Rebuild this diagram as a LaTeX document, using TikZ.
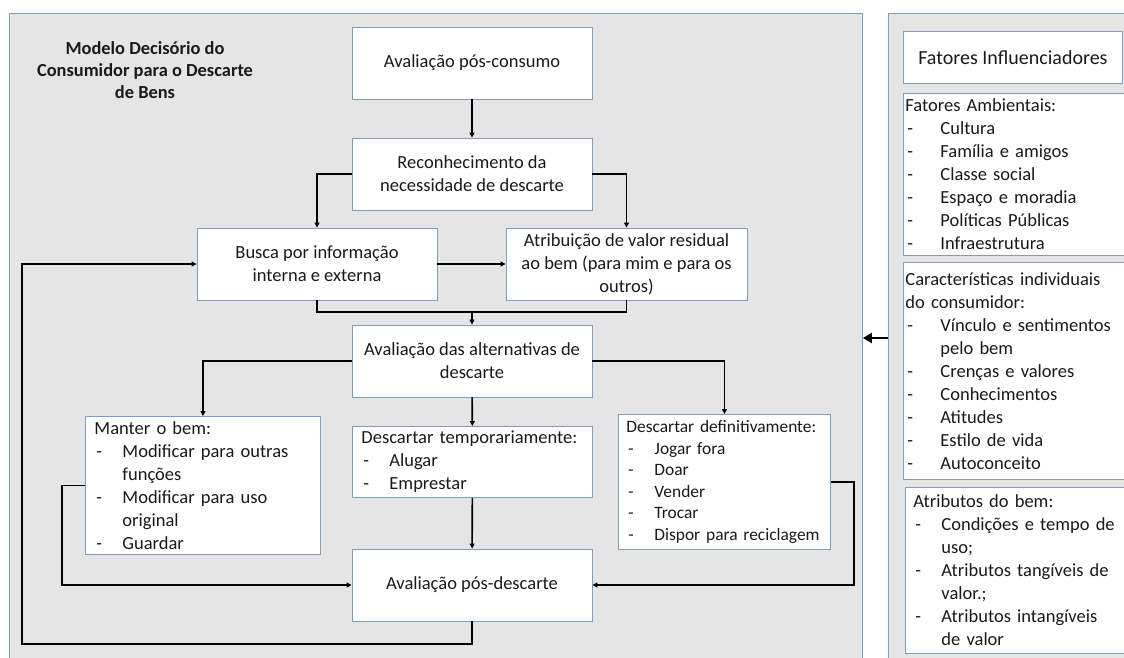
\documentclass[tikz,border=0pt]{standalone}
\usepackage{fontspec}
\setmainfont{Carlito}
\usepackage{tikz}
\usetikzlibrary{arrows.meta}
\definecolor{panel}{HTML}{E5E5E5}
\definecolor{frame}{HTML}{7F9DC2}
\definecolor{ink}{HTML}{1A1A1A}
\tikzset{
  pane/.style={draw=frame, fill=panel, line width=0.9pt, anchor=north west, inner sep=0pt},
  box/.style={draw=frame, fill=white, line width=0.9pt, text=ink, align=center, inner sep=0pt},
  listbox/.style={draw=frame, fill=white, line width=0.9pt, text=ink, align=left, anchor=north west, inner xsep=9pt, inner ysep=0pt},
  flow/.style={-{Triangle[length=5pt,width=5pt]}, line width=1.6pt, draw=black},
  link/.style={line width=1.6pt, draw=black},
  bigarrow/.style={-{Triangle[length=9pt,width=10pt]}, line width=2.8pt, draw=black},
  ttl/.style={font=\fontsize{18.4}{22}\selectfont\bfseries, text=ink, align=center}
}
\newcommand{\lidash}[1][28pt]{\makebox[#1][l]{\hspace{2pt}-}}
\newcommand{\liskip}[1][28pt]{\hspace*{#1}}
\newcommand{\ridash}{\lidash[35pt]}
\newcommand{\riskip}{\liskip[35pt]}

\begin{document}
\begin{tikzpicture}[x=1pt, y=-1pt, font=\fontsize{18.5}{23}\selectfont]
  \useasboundingbox (0,0) rectangle (1124,657);
  \clip (0,0) rectangle (1124,657);

  \node[pane, minimum width=853, minimum height=680] (lpane) at (9,13) {};
  \node[pane, minimum width=260, minimum height=680] (rpane) at (888,13) {};

  \node[ttl] (title) at (145,70) {Modelo Decisório do\\Consumidor para o Descarte\\de Bens};

  % decision flow
  \node[box, minimum width=240, minimum height=72] (posc) at (472,63) {Avaliação pós-consumo};
  \node[box, minimum width=240, minimum height=72] (recon) at (472,174) {Reconhecimento da\\necessidade de descarte};
  \node[box, minimum width=240, minimum height=72] (busca) at (317,264) {Busca por informação\\interna e externa};
  \node[box, minimum width=241, minimum height=72] (atrib) at (626.5,264) {Atribuição de valor residual\\ao bem (para mim e para os\\outros)};
  \node[box, minimum width=240, minimum height=72] (alter) at (472,361) {Avaliação das alternativas de\\descarte};
  \node[listbox, text width=217pt, minimum height=138] (manter) at (85,416)
    {Manter o bem:\\\lidash Modificar para outras\\\liskip funções\\\lidash Modificar para uso\\\liskip original\\\lidash Guardar};
  \node[listbox, text width=222pt, minimum height=71] (temp) at (352,426)
    {Descartar temporariamente:\\\lidash Alugar\\\lidash Emprestar};
  \node[listbox, inner xsep=8pt, text width=196pt, minimum height=135, font=\fontsize{17.4}{21.6}\selectfont] (defin) at (618,414)
    {Descartar definitivamente:\\\lidash Jogar fora\\\lidash Doar\\\lidash Vender\\\lidash Trocar\\\lidash Dispor para reciclagem};
  \node[box, minimum width=240, minimum height=72] (posd) at (472,585) {Avaliação pós-descarte};

  \coordinate (join) at (472,312);
  \coordinate (loop) at (22,644);

  \draw[flow] (posc) -- (recon);
  \draw[flow] (recon.west) -| (busca.north);
  \draw[flow] (recon.east) -| (atrib.north);
  \draw[flow] (busca) -- (atrib);
  \draw[link] (busca.south) |- (join) -| (atrib.south);
  \draw[flow] (join) -- (alter.north);
  \draw[flow] (alter.west) -| (manter.north);
  \draw[flow] (alter.east) -| (defin.north);
  \draw[flow] (alter) -- (temp);
  \draw[flow] (temp) -- (posd);
  \draw[flow] (manter.west) -- ++(-23,0) |- (posd.west);
  \draw[flow] (defin.east) -- ++(23,0) |- (posd.east);
  \draw[flow] (posd.south) |- (loop) |- (busca.west);

  % influencing factors
  \node[box, minimum width=219, minimum height=52, anchor=north west, font=\fontsize{20}{24}\selectfont] (fat) at (903,31) {Fatores Influenciadores};
  \node[listbox, inner xsep=2pt, text width=225pt, minimum height=162] (amb) at (903,93)
    {Fatores Ambientais:\\\ridash Cultura\\\ridash Família e amigos\\\ridash Classe social\\\ridash Espaço e moradia\\\ridash Políticas Públicas\\\ridash Infraestrutura};
  \node[listbox, inner xsep=2pt, text width=225pt, minimum height=217] (carac) at (903,262)
    {Características individuais\\do consumidor:\\\ridash Vínculo e sentimentos\\\riskip pelo bem\\\ridash Crenças e valores\\\ridash Conhecimentos\\\ridash Atitudes\\\ridash Estilo de vida\\\ridash Autoconceito};
  \node[listbox, inner xsep=8pt, text width=215pt, minimum height=166] (bem) at (905,487)
    {Atributos do bem:\\\lidash Condições e tempo de\\\liskip uso;\\\lidash Atributos tangíveis de\\\liskip valor.;\\\lidash Atributos intangíveis\\\liskip de valor};

  \coordinate (infl) at (888,338);
  \draw[bigarrow] (infl) -- (infl -| lpane.east);
\end{tikzpicture}
\end{document}
